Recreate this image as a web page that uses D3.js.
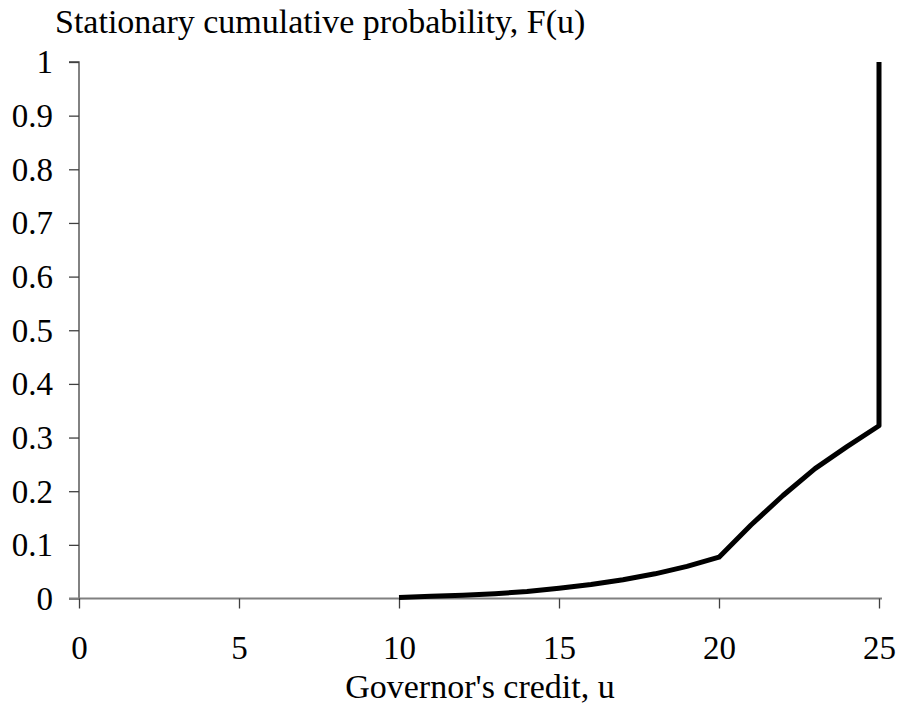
<!DOCTYPE html>
<html>
<head>
<meta charset="utf-8">
<script src="https://cdn.jsdelivr.net/npm/d3@7"></script>
<style>
  html, body { margin: 0; padding: 0; background: #fff; }
  svg text { font-family: "Liberation Serif", "Times New Roman", serif; fill: #000; }
</style>
</head>
<body>
<svg id="chart" width="898" height="707"></svg>
<script>
// Stationary cumulative distribution of the governor's credit
const creditU = [10, 11, 12, 13, 14, 15, 16, 17, 18, 19, 20, 21, 22, 23, 24, 25, 25];
const cumProbF = [0.002, 0.004, 0.006, 0.009, 0.013, 0.019, 0.026, 0.035, 0.046, 0.06, 0.077, 0.137, 0.192, 0.242, 0.283, 0.322, 1];
const xTicks = [0, 5, 10, 15, 20, 25];
const yTicks = [0, 0.1, 0.2, 0.3, 0.4, 0.5, 0.6, 0.7, 0.8, 0.9, 1];
const yTitle = "Stationary cumulative probability, F(u)";
const xTitle = "Governor's credit, u";

const svg = d3.select("#chart");
const plotLeft = 79, plotRight = 879, plotTop = 62, plotBottom = 598.5;

const x = d3.scaleLinear().domain([0, 25]).range([plotLeft, plotRight]);
const y = d3.scaleLinear().domain([0, 1]).range([plotBottom, plotTop]);

// Y axis
const yAxis = svg.append("g")
  .attr("transform", `translate(${plotLeft},0)`)
  .call(d3.axisLeft(y).tickValues(yTicks).tickSize(10).tickPadding(16)
    .tickFormat(d => d3.format("~g")(d)));
yAxis.select(".domain").attr("stroke", "#404040").attr("stroke-width", 1.3).attr("d", `M-10,${plotTop}H0V${plotBottom}`);
yAxis.selectAll(".tick line").attr("stroke", "#404040").attr("stroke-width", 1.3);
yAxis.selectAll(".tick text").attr("font-size", 33).attr("font-family", "Liberation Serif").attr("fill", "#000").attr("dy", "0.33em");

// X axis
const xAxis = svg.append("g")
  .attr("transform", `translate(0,${plotBottom})`)
  .call(d3.axisBottom(x).tickValues(xTicks).tickSize(10).tickPadding(27));
xAxis.select(".domain").attr("stroke", "#808080").attr("stroke-width", 2).attr("d", `M${plotLeft - 10},0H${plotRight + 3}`);
xAxis.selectAll(".tick line").attr("stroke", "#404040").attr("stroke-width", 1.3);
xAxis.selectAll(".tick text").attr("font-size", 33).attr("font-family", "Liberation Serif").attr("fill", "#000").attr("dy", "0.71em");

// Titles
svg.append("text").attr("x", 55).attr("y", 33).attr("font-size", 34).text(yTitle);
svg.append("text").attr("x", 480).attr("y", 698).attr("text-anchor", "middle").attr("font-size", 34).text(xTitle);

// Distribution curve
const line = d3.line().x((d, i) => x(creditU[i])).y(d => y(d));
svg.append("path")
  .datum(cumProbF)
  .attr("d", line)
  .attr("fill", "none")
  .attr("stroke", "#000")
  .attr("stroke-width", 5)
  .attr("stroke-linejoin", "round");
</script>
</body>
</html>
